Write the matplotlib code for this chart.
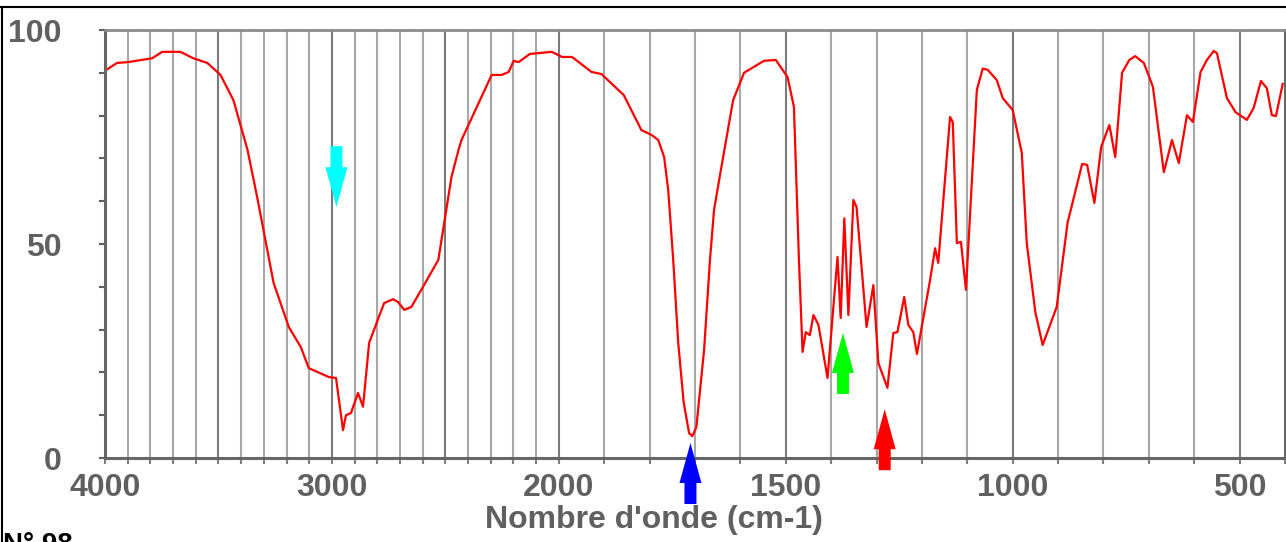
import numpy as np
import matplotlib
matplotlib.use('Agg')
import matplotlib.pyplot as plt
import matplotlib.transforms as mtransforms
from matplotlib.patches import Polygon

# IR spectrum
wavenumber = [4000, 3947, 3898, 3792, 3748, 3668, 3611, 3549, 3491, 3434,
              3372, 3327, 3257, 3190, 3137, 3102, 3013, 2982, 2951, 2938,
              2916, 2885, 2863, 2836, 2770, 2730, 2708, 2681, 2650, 2606,
              2531, 2473, 2442, 2429, 2296, 2252, 2221, 2199, 2177, 2128,
              2031, 1993, 1971, 1928, 1906, 1857, 1818, 1796, 1781, 1768,
              1759, 1748, 1737, 1725, 1713, 1706, 1697, 1680, 1667, 1658,
              1643, 1616, 1592, 1548, 1522, 1496, 1482, 1471, 1463, 1456,
              1447, 1439, 1428, 1408, 1386, 1379, 1371, 1362, 1351, 1344,
              1322, 1307, 1296, 1276, 1263, 1254, 1239, 1230, 1219, 1211,
              1182, 1171, 1164, 1138, 1132, 1123, 1114, 1103, 1079, 1066,
              1055, 1035, 1022, 1000, 980, 969, 950, 934, 903, 879,
              847, 836, 820, 805, 787, 774, 759, 743, 730, 711,
              691, 667, 649, 634, 616, 603, 586, 572, 557, 550,
              528, 509, 484, 469, 453, 440, 429, 420, 405]
transmittance = [90.5, 92.3, 92.5, 93.4, 94.9, 94.9, 93.4, 92.3, 89.5, 83.6,
                 72.0, 60.3, 40.9, 30.6, 25.9, 21.0, 18.9, 18.7, 6.5, 10.0,
                 10.5, 15.2, 12.0, 26.9, 36.2, 37.1, 36.4, 34.6, 35.3, 39.3,
                 46.3, 65.7, 72.0, 74.3, 89.5, 89.5, 90.2, 92.8, 92.5, 94.4,
                 94.9, 93.7, 93.7, 90.2, 89.7, 84.8, 76.6, 75.5, 74.3, 70.3,
                 62.6, 46.3, 27.0, 13.0, 5.8, 5.1, 7.2, 25.2, 46.3, 58.0,
                 67.3, 83.6, 90.0, 92.8, 93.0, 89.0, 82.0, 46.3, 24.8, 29.4,
                 28.7, 33.4, 31.1, 18.7, 47.0, 32.7, 56.0, 33.4, 60.3, 58.6,
                 30.6, 40.4, 22.2, 16.4, 29.2, 29.4, 37.6, 31.1, 29.4, 24.3,
                 41.6, 49.0, 45.6, 79.7, 78.5, 50.2, 50.5, 39.3, 86.0, 91.0,
                 90.7, 88.3, 84.1, 81.3, 71.3, 50.2, 34.0, 26.4, 35.3, 55.0,
                 68.7, 68.5, 59.6, 72.7, 77.8, 70.3, 90.0, 93.0, 93.9, 92.3,
                 86.7, 66.8, 74.3, 68.9, 80.1, 78.5, 90.2, 93.0, 95.1, 94.6,
                 84.1, 80.8, 79.0, 81.8, 88.1, 86.4, 80.1, 79.9, 87.4]

xtick_labels = [4000, 3000, 2000, 1500, 1000, 500]
ytick_labels = [0, 50, 100]

arrow_wn = [2980, 1710, 1374, 1282]
arrow_tip = [58.6, 3.5, 29.2, 11.4]
arrow_up = [False, True, True, True]
arrow_colors = ['#00ffff', '#0000ff', '#00ff00', '#ff0000']


def fwd(x):
    x = np.asarray(x, dtype=float)
    return np.where(x > 2000, 2000 + (x - 2000) / 2, x)


def inv(u):
    u = np.asarray(u, dtype=float)
    return np.where(u > 2000, 2000 + (u - 2000) * 2, u)


W, H = 1286, 542
fig = plt.figure(figsize=(W / 100, H / 100), dpi=100)
ax = fig.add_axes([105 / W, (H - 458) / H, (1285 - 105) / W, (458 - 30) / H])
ax.set_xscale('function', functions=(fwd, inv))
ax.set_xlim(4000, 400)
ax.set_ylim(0, 100)

txt_col = '#606060'
font = 'Liberation Sans'

grid = np.arange(3900, 400, -100)
for g in grid:
    col = '#7a7a7a' if g % 500 == 0 else '#a8a8a8'
    ax.axvline(g, color=col, lw=1.5, zorder=1)

ax.plot(wavenumber, transmittance, color='#ff0000', lw=1.6, zorder=2)

# block arrows, pixel units around the tip (up arrow shape, flipped for down)
shape = [(0, 0), (-11, -40), (-6, -40), (-6, -61), (6, -61), (6, -40), (11, -40)]
for wn, tip, up, c in zip(arrow_wn, arrow_tip, arrow_up, arrow_colors):
    s = 1 if up else -1
    verts = [(vx, vy * s) for vx, vy in shape]
    tr = mtransforms.ScaledTranslation(wn, tip, ax.transData)
    p = Polygon(verts, closed=True, facecolor=c, edgecolor='none',
                transform=tr, clip_on=False, zorder=4)
    ax.add_artist(p)

ticks = np.arange(4000, 399, -100)
ax.set_xticks(ticks)
ax.set_xticklabels([str(t) if t in xtick_labels else '' for t in ticks])
ax.set_yticks(ytick_labels)
ax.set_yticks(np.arange(0, 101, 10), minor=True)
ax.tick_params(axis='x', direction='out', length=4, width=1.5, color='#808080',
               pad=7, labelsize=23, labelcolor=txt_col)
ax.tick_params(axis='y', which='both', direction='out', length=4, width=1.5,
               color='#606060', pad=27, labelsize=23, labelcolor=txt_col)
for lab in ax.get_xticklabels() + ax.get_yticklabels():
    lab.set_fontweight('bold')
    lab.set_fontfamily(font)

for side in ['left', 'bottom', 'right']:
    ax.spines[side].set_color('#666666')
    ax.spines[side].set_linewidth(2.2)
ax.spines['top'].set_color('#8c8c8c')
ax.spines['top'].set_linewidth(2.0)

fig.text(654 / W, 1 - 520 / H, "Nombre d'onde (cm-1)", ha='center', va='center',
         fontsize=23, fontweight='bold', color=txt_col, family=font)
fig.text(3 / W, 1 - 552 / H, 'N° 98', ha='left', va='baseline',
         fontsize=20, fontweight='bold', color='black', family=font)

# picture frame
fig.add_artist(plt.Line2D([0, 1], [1 - 6.5 / H, 1 - 6.5 / H], color='black', lw=1.5))
fig.add_artist(plt.Line2D([1.5 / W, 1.5 / W], [0, 1 - 6.5 / H], color='black', lw=1.5))

fig.savefig('out.png', dpi=100)
